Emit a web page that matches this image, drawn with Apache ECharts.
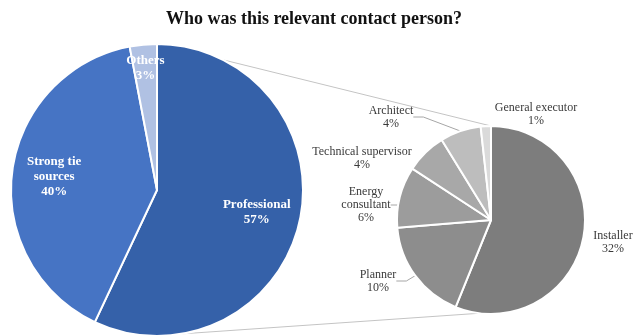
<!DOCTYPE html>
<html>
<head>
<meta charset="utf-8">
<script src="https://cdn.jsdelivr.net/npm/echarts@6/dist/echarts.min.js"></script>
<style>
  html, body { margin: 0; padding: 0; background: #fff; }
  #chart { width: 644px; height: 336px; }
</style>
</head>
<body>
<div id="chart"></div>
<script>
// main pie
const mainCategories = ['Professional', 'Strong tie\nsources', 'Others'];
const mainValues = [57, 40, 3];
// breakdown of "Professional"
const subCategories = ['Installer', 'Planner', 'Energy\nconsultant', 'Technical supervisor', 'Architect', 'General executor'];
const subValues = [32, 10, 6, 4, 4, 1];

const mainColors = ['#3561a9', '#4674c4', '#b0c1e3'];
const subColors = ['#7d7d7d', '#8d8d8d', '#9c9c9c', '#a8a8a8', '#bdbdbd', '#dadada'];

// layout
const c1 = [157, 190], r1 = 146;
const c2 = [491, 220], r2 = 94;
const mainLabelDist = [0.70, 0.71, 0.84];   // fraction of radius
const subLabelPos = [[613, 242], [378, 281], [366, 205], [362, 158], [391, 117], [536, 114]];
const subHasLine = [false, true, true, false, true, false];

const serif = '"Liberation Serif", "DejaVu Serif", serif';

const myChart = echarts.init(document.getElementById('chart'), null, {renderer: 'canvas'});

// mid angle of each main slice (clockwise from 12 o'clock)
const mainTotal = mainValues.reduce((a, b) => a + b, 0);
let acc = 0;
const mainMid = mainValues.map(v => {
  const m = (acc + v / 2) / mainTotal * Math.PI * 2;
  acc += v;
  return m;
});

const option = {
  animation: false,
  title: {
    text: 'Who was this relevant contact person?',
    left: 309,
    top: 5,
    textAlign: 'center',
    textStyle: {fontFamily: serif, fontSize: 18, fontWeight: 'bold', color: '#111'}
  },
  graphic: [
    // connector lines between the pies
    {type: 'line', silent: true, z: 0,
      shape: {x1: c1[0] + 2, y1: c1[1] - r1, x2: c2[0], y2: c2[1] - r2},
      style: {stroke: '#c4c4c4', lineWidth: 1}},
    {type: 'line', silent: true, z: 0,
      shape: {x1: c1[0] - 6, y1: c1[1] + r1, x2: c2[0] - 8, y2: c2[1] + r2 - 1},
      style: {stroke: '#c4c4c4', lineWidth: 1}}
  ],
  series: [
    {
      name: 'main',
      type: 'pie',
      center: c1,
      radius: [0, r1],
      startAngle: 90,
      clockwise: true,
      silent: true,
      z: 2,
      itemStyle: {borderColor: '#fff', borderWidth: 2},
      label: {
        show: true,
        position: 'inside',
        formatter: p => p.name + '\n' + p.value + '%',
        fontFamily: serif,
        fontSize: 13,
        fontWeight: 'bold',
        lineHeight: 15,
        color: '#fff',
        align: 'center',
        overflow: 'none'
      },
      labelLayout: p => {
        const i = p.dataIndex;
        const d = r1 * mainLabelDist[i];
        return {
          x: c1[0] + Math.sin(mainMid[i]) * d,
          y: c1[1] - Math.cos(mainMid[i]) * d,
          align: 'center',
          verticalAlign: 'middle'
        };
      },
      data: mainCategories.map((n, i) => ({name: n, value: mainValues[i], itemStyle: {color: mainColors[i]}}))
    },
    {
      name: 'sub',
      type: 'pie',
      center: c2,
      radius: [0, r2],
      startAngle: 90,
      clockwise: true,
      silent: true,
      z: 2,
      itemStyle: {borderColor: '#fff', borderWidth: 2},
      label: {
        show: true,
        position: 'outside',
        formatter: p => p.name + '\n' + p.value + '%',
        fontFamily: serif,
        fontSize: 12,
        lineHeight: 13,
        color: '#3a3a3a',
        align: 'center',
        overflow: 'none'
      },
      labelLine: {show: true, length: 10, length2: 10, lineStyle: {color: '#a6a6a6', width: 1}},
      labelLayout: p => {
        const pos = subLabelPos[p.dataIndex];
        return {x: pos[0], y: pos[1], align: 'center', verticalAlign: 'middle'};
      },
      data: subCategories.map((n, i) => ({
        name: n,
        value: subValues[i],
        itemStyle: {color: subColors[i]},
        labelLine: {show: subHasLine[i]}
      }))
    }
  ]
};

myChart.setOption(option);
</script>
</body>
</html>
